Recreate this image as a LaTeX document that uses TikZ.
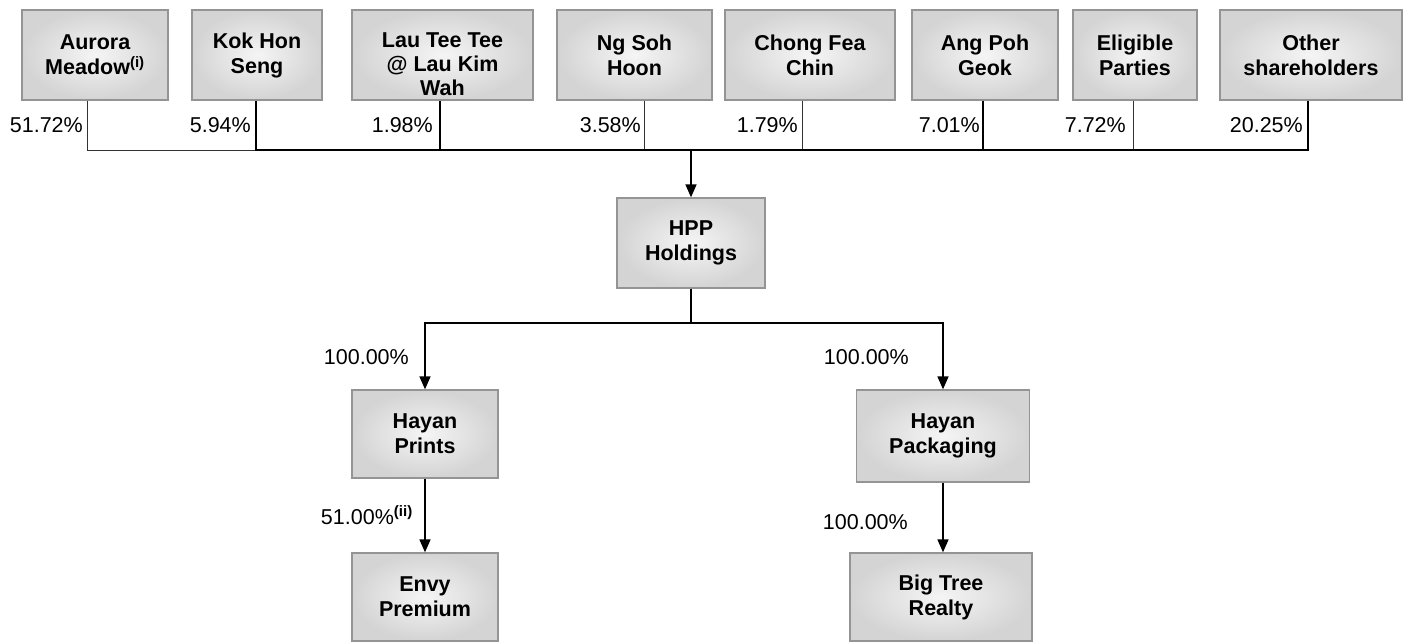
\documentclass[tikz,border=0pt]{standalone}
\usepackage{fontspec}
\setmainfont{Liberation Sans}
\usetikzlibrary{arrows.meta}
\begin{document}
\begin{tikzpicture}[x=1pt,y=-1pt,
  box/.style={rectangle, draw=black!42, line width=1.3pt, inner color=black!4, outer color=black!17,
    font=\fontsize{21.5}{25}\selectfont\bfseries, align=center, inner sep=0pt, minimum height=90pt},
  boxtext/.style={font=\fontsize{21.5}{24}\selectfont\bfseries, align=center, inner sep=0pt},
  pct/.style={font=\fontsize{21.5}{25}\selectfont, inner sep=0pt, anchor=east},
  thick line/.style={line width=1.5pt, draw=black},
  thin line/.style={line width=0.9pt, draw=black!80},
  arrow/.style={thick line, -{Triangle[length=13pt,width=11pt]}}
]
\useasboundingbox (0,0) rectangle (1409,641);

% shareholders
\node[box, minimum width=146pt] (a) at (95,55) {Aurora\\Meadow\textsuperscript{(i)}};
\node[box, minimum width=130pt] (b) at (257,55) {Kok Hon\\Seng};
\node[box, minimum width=181pt] (c) at (442.5,55) {};
\begin{scope}
  \clip (c.south west) rectangle (c.north east);
  \node[boxtext] (ct) at ([yshift=-9pt]c.center) {Lau Tee Tee\\@ Lau Kim\\Wah};
\end{scope}
\node[box, minimum width=155pt] (d) at (634.5,55) {Ng Soh\\Hoon};
\node[box, minimum width=170pt] (e) at (810,55) {Chong Fea\\Chin};
\node[box, minimum width=146pt] (f) at (985,55) {Ang Poh\\Geok};
\node[box, minimum width=124pt] (g) at (1135,55) {Eligible\\Parties};
\node[box, minimum width=182pt] (h) at (1311,55) {Other\\shareholders};

% companies
\node[box, minimum width=148pt] (hpp) at (691,243) {HPP\\Holdings};
\node[box, minimum width=146pt, minimum height=88pt] (hp) at (425,434) {Hayan\\Prints};
\node[box, minimum width=173pt, minimum height=92pt] (hk) at (943,436) {Hayan\\Packaging};
\node[box, minimum width=146pt, minimum height=88pt] (ep) at (425,597) {Envy\\Premium};
\node[box, minimum width=182pt, minimum height=88pt] (bt) at (941,597) {Big Tree\\Realty};

% bus to HPP
\coordinate (bus) at (691,150);
\draw[thin line] ([xshift=-8pt]a.south) |- (bus);
\draw[thin line] ([xshift=9.5pt]d.south) |- (bus);
\draw[thin line] ([xshift=-8pt]e.south) |- (bus);
\draw[thin line] ([xshift=-2pt]g.south) |- (bus);
\draw[thick line] ([xshift=-1pt]b.south) |- (bus);
\draw[thick line] ([xshift=-2.5pt]c.south) |- (bus);
\draw[thick line] ([xshift=-2pt]f.south) |- (bus);
\draw[thick line] ([xshift=-3pt]h.south) |- (bus);
\draw[arrow] (bus) -- (hpp.north);

% percentages of shareholders
\node[pct] (p1) at (83,125) {51.72\%};
\node[pct] (p2) at (251,125) {5.94\%};
\node[pct] (p3) at (433,125) {1.98\%};
\node[pct] (p4) at (641,125) {3.58\%};
\node[pct] (p5) at (798,125) {1.79\%};
\node[pct] (p6) at (980,125) {7.01\%};
\node[pct] (p7) at (1126,125) {7.72\%};
\node[pct] (p8) at (1303,125) {20.25\%};

% HPP to subsidiaries
\coordinate (fork) at (691,323);
\draw[arrow] (hpp.south) -- (fork) -| (hp.north);
\draw[arrow] (fork) -| (hk.north);
\node[pct] (q1) at (409,357) {100.00\%};
\node[pct] (q2) at (909,357) {100.00\%};

% second level
\draw[arrow] (hp.south) -- (ep.north);
\draw[arrow] (hk.south) -- (hk.south |- bt.north);
\node[pct] (q3) at (413,515) {51.00\%\textsuperscript{\bfseries(ii)}};
\node[pct] (q4) at (908,522) {100.00\%};
\end{tikzpicture}
\end{document}
